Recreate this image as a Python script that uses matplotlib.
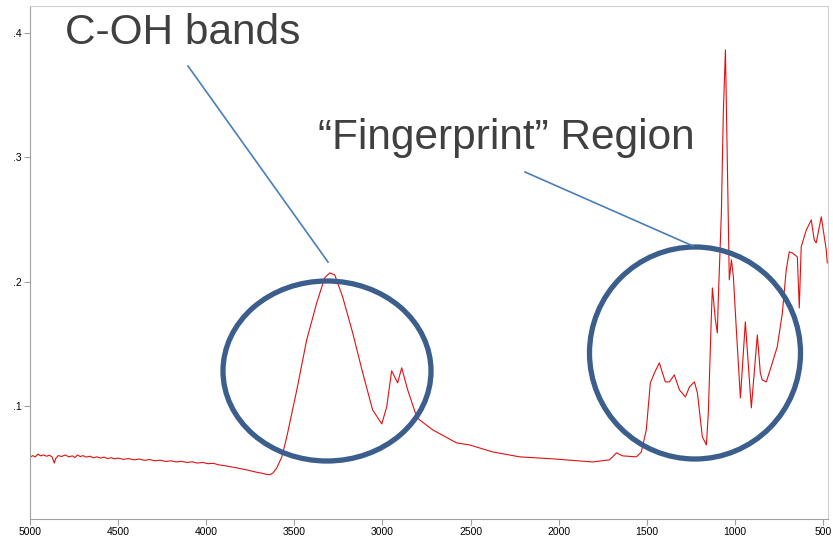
import numpy as np
import matplotlib
matplotlib.use("Agg")
import matplotlib.pyplot as plt
from matplotlib.patches import Ellipse
from matplotlib.lines import Line2D

plt.rcParams['font.family'] = ['Liberation Sans', 'DejaVu Sans']

# IR spectrum, wavenumber (cm-1) vs absorbance
# high wavenumber baseline
wn_base = [5000, 4985, 4970, 4955, 4940, 4925, 4905, 4890, 4875, 4862, 4855, 4840,
           4820, 4800, 4780, 4760, 4745, 4730, 4715, 4700, 4680, 4660, 4640, 4620,
           4600, 4580, 4560, 4540, 4520, 4500, 4470, 4440, 4410, 4380, 4350, 4320,
           4290, 4260, 4230, 4200, 4170, 4140, 4110, 4080, 4050, 4020, 3990, 3960,
           3930, 3900, 3870, 3840, 3810, 3780, 3750, 3720, 3690, 3660, 3640, 3622,
           3600, 3571]
ab_base = [0.0585, 0.0600, 0.0590, 0.0612, 0.0598, 0.0605, 0.0595, 0.0603, 0.0590, 0.0540, 0.0575, 0.0600,
           0.0593, 0.0605, 0.0590, 0.0598, 0.0585, 0.0605, 0.0592, 0.0600, 0.0588, 0.0595, 0.0582, 0.0590,
           0.0580, 0.0588, 0.0576, 0.0583, 0.0574, 0.0580, 0.0570, 0.0576, 0.0566, 0.0572, 0.0562, 0.0568,
           0.0558, 0.0563, 0.0553, 0.0558, 0.0549, 0.0554, 0.0545, 0.0550, 0.0540, 0.0545, 0.0535, 0.0538,
           0.0526, 0.0520, 0.0512, 0.0505, 0.0496, 0.0488, 0.0478, 0.0468, 0.0460, 0.0450, 0.0446, 0.0460,
           0.0500, 0.0590]

# O-H stretch and C-H doublet
wn_oh = [3543, 3486, 3430, 3373, 3328, 3299, 3271, 3226, 3169, 3112, 3056, 3004,
         2976, 2948, 2914, 2891, 2857, 2806]
ab_oh = [0.0751, 0.1129, 0.1531, 0.1829, 0.2030, 0.2070, 0.2054, 0.1877, 0.1587, 0.1265, 0.0968, 0.0855,
         0.0992, 0.1282, 0.1185, 0.1306, 0.1129, 0.0912]

# mid-range baseline
wn_mid = [2789, 2715, 2579, 2506, 2375, 2222, 2035, 1808, 1712, 1672, 1638, 1559,
          1531, 1503]
ab_mid = [0.0887, 0.0807, 0.0702, 0.0686, 0.0630, 0.0590, 0.0574, 0.0549, 0.0566, 0.0622, 0.0598, 0.0590,
          0.0630, 0.0807]

# fingerprint region
wn_fp = [1480, 1457, 1429, 1395, 1372, 1344, 1315, 1281, 1258, 1230, 1213, 1185,
         1162, 1151, 1134, 1128, 1111, 1100, 1094, 1077, 1066, 1054, 1043, 1032,
         1020, 1009, 992, 969, 941, 930, 907, 873, 856, 845, 822, 788,
         760, 731, 709, 692, 675, 646, 635, 624, 595, 567, 550, 539,
         510, 493, 482, 476]
ab_fp = [0.1185, 0.1265, 0.1346, 0.1193, 0.1193, 0.1249, 0.1129, 0.1072, 0.1153, 0.1193, 0.1105, 0.0751,
         0.0686, 0.0944, 0.1716, 0.1949, 0.1692, 0.1587, 0.1877, 0.2553, 0.3357, 0.3864, 0.2955, 0.2014,
         0.2175, 0.2038, 0.1611, 0.1064, 0.1676, 0.1451, 0.0984, 0.1571, 0.1265, 0.1209, 0.1193, 0.1346,
         0.1475, 0.1748, 0.2094, 0.2239, 0.2231, 0.2199, 0.1788, 0.2279, 0.2416, 0.2496, 0.2335, 0.2311,
         0.2521, 0.2360, 0.2255, 0.2150]

wavenumber = wn_base + wn_oh + wn_mid + wn_fp
absorbance = ab_base + ab_oh + ab_mid + ab_fp

xticks = [5000, 4500, 4000, 3500, 3000, 2500, 2000, 1500, 1000, 500]
yticks = [0.1, 0.2, 0.3, 0.4]
ytick_labels = ['.1', '.2', '.3', '.4']

W, H = 833, 538
fig = plt.figure(figsize=(W / 100, H / 100), dpi=100)
ax = fig.add_axes([30 / W, 1 - 519 / H, (828 - 30) / W, (519 - 6) / H])

ax.plot(wavenumber, absorbance, color='#e01010', lw=0.8)
ax.set_xlim(5000, 472)
ax.set_ylim(0.009, 0.4217)

ax.set_xticks(xticks)
ax.set_xticklabels([str(t) for t in xticks])
ax.set_yticks(yticks)
ax.set_yticklabels(ytick_labels)
ax.tick_params(labelsize=7.5, length=4, width=0.8, color='#a0a0a0', pad=2)
for s in ['left', 'bottom']:
    ax.spines[s].set_color('#a0a0a0')
for s in ['top', 'right']:
    ax.spines[s].set_color('#d0d0d0')


def fx(px):
    return px / W


def fy(py):
    return 1 - py / H


# callout text
fig.text(fx(65), fy(33), 'C-OH bands', fontsize=30.5, color='#404040', va='center', ha='left')
fig.text(fx(318), fy(138), '\u201cFingerprint\u201d Region', fontsize=30.5, color='#404040',
         va='center', ha='left')

# leader lines
fig.add_artist(Line2D([fx(188), fx(328)], [fy(66), fy(262)], color='#4a7ebb', lw=1.2))
fig.add_artist(Line2D([fx(525), fx(693)], [fy(172), fy(246)], color='#4a7ebb', lw=1.2))

# circled regions
fig.add_artist(Ellipse((fx(327), fy(371)), 208 / W, 180 / H, transform=fig.transFigure,
                       fill=False, edgecolor='#3b5e8c', lw=3.8))
fig.add_artist(Ellipse((fx(695), fy(353)), 211 / W, 212 / H, transform=fig.transFigure,
                       fill=False, edgecolor='#3b5e8c', lw=3.8))

fig.savefig('out.png', dpi=100)
